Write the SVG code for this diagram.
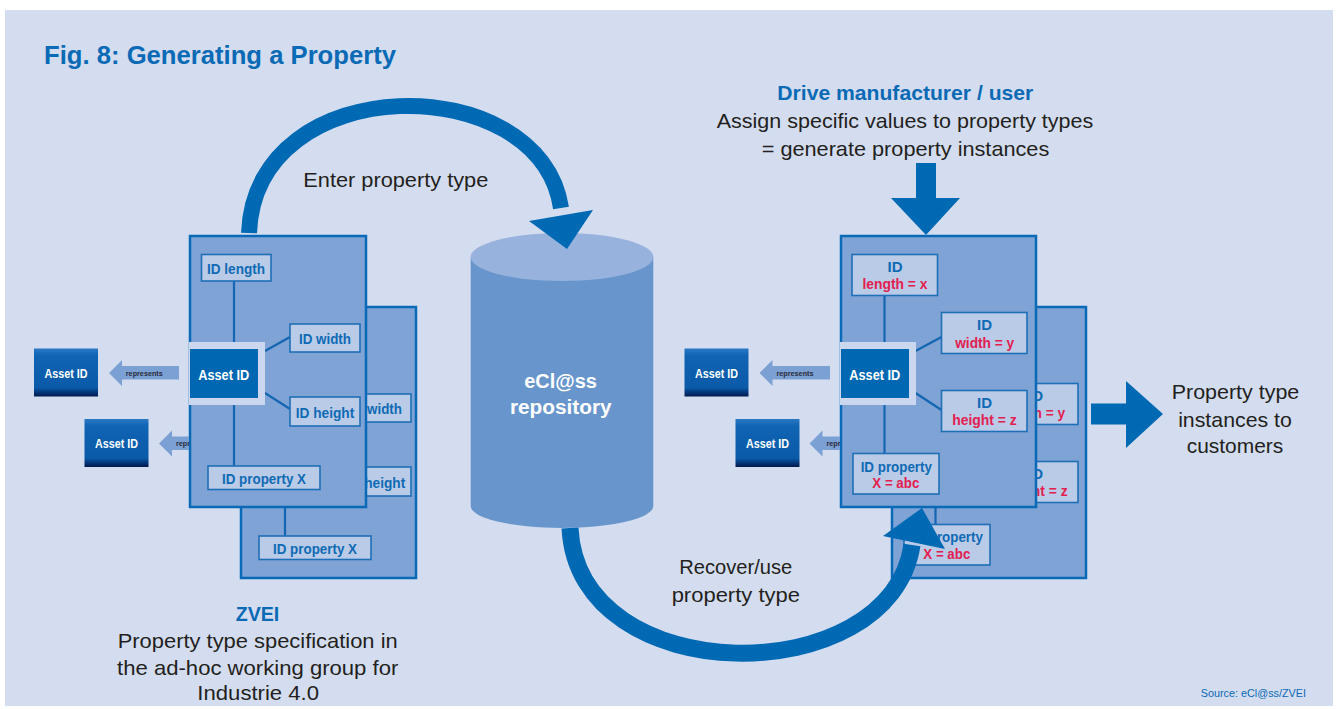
<svg xmlns="http://www.w3.org/2000/svg" width="1338" height="709" viewBox="0 0 1338 709">
<style>
.panel{fill:#7ea3d4;stroke:#0a6ab8;stroke-width:2.5}
.box{fill:#bacbe8;stroke:#1f6fb7;stroke-width:1.6}
.link{stroke:#1466b2;stroke-width:2.2;fill:none}
.frame{fill:#cbd7ee}
.core{fill:#0068b3}
.t{font-family:"Liberation Sans",Arial,sans-serif}
.lbl{font-family:"Liberation Sans",Arial,sans-serif;font-size:15px;font-weight:bold;fill:#0f6ab4;text-anchor:middle}
.red{fill:#e2204f}
.core-t{font-family:"Liberation Sans",Arial,sans-serif;font-size:15px;font-weight:bold;fill:#ffffff;text-anchor:middle}
.asset{fill:url(#ag)}
.asset-t{font-family:"Liberation Sans",Arial,sans-serif;font-size:12.5px;font-weight:bold;fill:#ffffff;text-anchor:middle}
.rep{fill:#7ba0d3}
.rep-t{font-family:"Liberation Sans",Arial,sans-serif;font-size:8px;font-weight:bold;fill:#2a2c3c;text-anchor:middle}
.flow{fill:#0069b4}
.arc{fill:none;stroke:#0069b4}
.body{font-family:"Liberation Sans",Arial,sans-serif;font-size:21px;fill:#231f20;text-anchor:middle}
.head{font-family:"Liberation Sans",Arial,sans-serif;font-size:21px;font-weight:bold;fill:#0a6ab5;text-anchor:middle}
</style>
<defs>
<linearGradient id="ag" x1="0" y1="0" x2="0" y2="1">
<stop offset="0" stop-color="#2a78c4"/>
<stop offset="0.15" stop-color="#0f64b3"/>
<stop offset="0.82" stop-color="#0a5aa8"/>
<stop offset="0.9" stop-color="#063a80"/>
<stop offset="1" stop-color="#001a4a"/>
</linearGradient>
<clipPath id="clipL"><rect x="0" y="400" width="189" height="80"/></clipPath>
<clipPath id="clipR"><rect x="700" y="400" width="140" height="80"/></clipPath>
<clipPath id="clipBackL"><path d="M367 300 H430 V590 H230 V508 H367 Z"/></clipPath>
<clipPath id="clipBackR"><path d="M1037 300 H1100 V590 H880 V508 H1037 Z"/></clipPath>
</defs>

<rect x="5" y="10" width="1328" height="696" fill="#d4ddef"/>

<text class="t" x="44" y="64" font-size="26" font-weight="bold" fill="#0a6ab5" textLength="352" lengthAdjust="spacingAndGlyphs">Fig. 8: Generating a Property</text>

<!-- left back panel -->
<g id="left-back" clip-path="url(#clipBackL)">
<rect class="panel" x="241" y="307" width="175" height="271"/>
<line class="link" x1="285" y1="475" x2="285" y2="536"/>
<rect class="box" x="341" y="394" width="70" height="28"/>
<text class="lbl" x="376" y="413.5" textLength="52" lengthAdjust="spacingAndGlyphs">ID width</text>
<rect class="box" x="341" y="467" width="70" height="29"/>
<text class="lbl" x="376" y="487.5" textLength="58.5" lengthAdjust="spacingAndGlyphs">ID height</text>
<rect class="box" x="259" y="536" width="112" height="23.5"/>
<text class="lbl" x="315" y="553.5" textLength="84" lengthAdjust="spacingAndGlyphs">ID property X</text>
</g>

<!-- left front panel -->
<g id="left-front">
<rect class="panel" x="190" y="236" width="176" height="271"/>
<line class="link" x1="234" y1="281" x2="234" y2="342"/>
<line class="link" x1="234" y1="405" x2="234" y2="466"/>
<line class="link" x1="265" y1="351" x2="290" y2="337"/>
<line class="link" x1="265" y1="393" x2="290" y2="409"/>
<rect class="box" x="201.5" y="254.5" width="69.5" height="26.5"/>
<text class="lbl" x="236" y="274" textLength="58" lengthAdjust="spacingAndGlyphs">ID length</text>
<rect class="box" x="290" y="324" width="70" height="28"/>
<text class="lbl" x="325" y="343.5" textLength="52" lengthAdjust="spacingAndGlyphs">ID width</text>
<rect class="box" x="290" y="397" width="70" height="29"/>
<text class="lbl" x="325" y="417.5" textLength="58.5" lengthAdjust="spacingAndGlyphs">ID height</text>
<rect class="box" x="208" y="466" width="112" height="23.5"/>
<text class="lbl" x="264" y="483.5" textLength="84" lengthAdjust="spacingAndGlyphs">ID property X</text>
<rect class="frame" x="189" y="342" width="76" height="63"/>
<rect class="core" x="190" y="349" width="68" height="49"/>
<text class="core-t" x="223.7" y="379.5" textLength="51" lengthAdjust="spacingAndGlyphs">Asset ID</text>
</g>

<!-- right back panel -->
<g id="right-back" clip-path="url(#clipBackR)">
<rect class="panel" x="892" y="307" width="194" height="271"/>
<line class="link" x1="935.5" y1="475" x2="935.5" y2="524.5"/>
<rect class="box" x="992.5" y="383.5" width="85.5" height="41"/>
<text class="lbl" x="1035.5" y="401">ID</text>
<text class="lbl red" x="1035.7" y="418.2" textLength="59" lengthAdjust="spacingAndGlyphs">width = y</text>
<rect class="box" x="992.5" y="461.5" width="85.5" height="41"/>
<text class="lbl" x="1035.5" y="478.5">ID</text>
<text class="lbl red" x="1035.5" y="495.7" textLength="64.6" lengthAdjust="spacingAndGlyphs">height = z</text>
<rect class="box" x="904" y="524.5" width="86" height="40.5"/>
<text class="lbl" x="947.3" y="542.2" textLength="71.3" lengthAdjust="spacingAndGlyphs">ID property</text>
<text class="lbl red" x="946.8" y="558.7" textLength="47" lengthAdjust="spacingAndGlyphs">X = abc</text>
</g>

<!-- right front panel -->
<g id="right-front">
<rect class="panel" x="841" y="236" width="195" height="271"/>
<line class="link" x1="884.5" y1="295.5" x2="884.5" y2="342"/>
<line class="link" x1="884.5" y1="405" x2="884.5" y2="453.5"/>
<line class="link" x1="915.5" y1="351" x2="941.5" y2="337"/>
<line class="link" x1="915.5" y1="393" x2="941.5" y2="410"/>
<rect class="box" x="852" y="254.5" width="85.5" height="41"/>
<text class="lbl" x="895" y="272">ID</text>
<text class="lbl red" x="895" y="289" textLength="65" lengthAdjust="spacingAndGlyphs">length = x</text>
<rect class="box" x="941.5" y="312.5" width="85.5" height="41"/>
<text class="lbl" x="984.5" y="330">ID</text>
<text class="lbl red" x="984.7" y="347.5" textLength="59" lengthAdjust="spacingAndGlyphs">width = y</text>
<rect class="box" x="941.5" y="390.5" width="85.5" height="41"/>
<text class="lbl" x="984.5" y="407.8">ID</text>
<text class="lbl red" x="984.5" y="425" textLength="64.6" lengthAdjust="spacingAndGlyphs">height = z</text>
<rect class="box" x="853" y="453.5" width="86" height="40.5"/>
<text class="lbl" x="896.3" y="471.5" textLength="71.3" lengthAdjust="spacingAndGlyphs">ID property</text>
<text class="lbl red" x="895.8" y="488" textLength="47" lengthAdjust="spacingAndGlyphs">X = abc</text>
<rect class="frame" x="840" y="342" width="76" height="63"/>
<rect class="core" x="841" y="349" width="68" height="49"/>
<text class="core-t" x="874.8" y="379.5" textLength="51" lengthAdjust="spacingAndGlyphs">Asset ID</text>
</g>

<!-- external asset IDs -->
<g id="asset-l1"><rect class="asset" x="34" y="348.5" width="64" height="48"/><text class="asset-t" x="66" y="377.5" textLength="43" lengthAdjust="spacingAndGlyphs">Asset ID</text></g>
<g id="asset-l2"><rect class="asset" x="84.5" y="419" width="64" height="48"/><text class="asset-t" x="116.5" y="447.5" textLength="43" lengthAdjust="spacingAndGlyphs">Asset ID</text></g>
<g id="asset-r1"><rect class="asset" x="684.5" y="348.5" width="64" height="48"/><text class="asset-t" x="716.5" y="377.5" textLength="43" lengthAdjust="spacingAndGlyphs">Asset ID</text></g>
<g id="asset-r2"><rect class="asset" x="735.5" y="419" width="64" height="48"/><text class="asset-t" x="767.5" y="447.5" textLength="43" lengthAdjust="spacingAndGlyphs">Asset ID</text></g>

<!-- repository -->
<g id="repository">
<path d="M470.7 257 L470.7 506 A91.3 22 0 0 0 653.3 506 L653.3 257 Z" fill="#6896cc"/>
<ellipse cx="562" cy="257" rx="91.3" ry="24" fill="#97b2dc"/>
<text class="t" x="560.5" y="388" font-size="19.5" font-weight="bold" fill="#ffffff" text-anchor="middle" textLength="72.7" lengthAdjust="spacingAndGlyphs">eCl@ss</text>
<text class="t" x="560.8" y="414" font-size="19.5" font-weight="bold" fill="#ffffff" text-anchor="middle" textLength="101.7" lengthAdjust="spacingAndGlyphs">repository</text>
</g>

<!-- captions -->
<g id="caption-drive">
<text class="head" x="905.3" y="100" font-size="20" textLength="256" lengthAdjust="spacingAndGlyphs">Drive manufacturer / user</text>
<text class="body" x="905" y="128.3" textLength="376.6" lengthAdjust="spacingAndGlyphs">Assign specific values to property types</text>
<text class="body" x="905.5" y="156" textLength="287.6" lengthAdjust="spacingAndGlyphs">= generate property instances</text>
</g>
<g id="caption-zvei">
<text class="head" x="257.5" y="621" textLength="43.6" lengthAdjust="spacingAndGlyphs">ZVEI</text>
<text class="body" x="257.7" y="648.3" textLength="280" lengthAdjust="spacingAndGlyphs">Property type specification in</text>
<text class="body" x="257.7" y="675" textLength="281.3" lengthAdjust="spacingAndGlyphs">the ad-hoc working group for</text>
<text class="body" x="258.2" y="700" textLength="121.7" lengthAdjust="spacingAndGlyphs">Industrie 4.0</text>
</g>
<g id="caption-customers">
<text class="body" x="1235.5" y="399.3" textLength="127.6" lengthAdjust="spacingAndGlyphs">Property type</text>
<text class="body" x="1235" y="426.5" textLength="113.7" lengthAdjust="spacingAndGlyphs">instances to</text>
<text class="body" x="1235" y="453.3" textLength="96.6" lengthAdjust="spacingAndGlyphs">customers</text>
</g>
<text id="source" class="t" x="1306" y="697.3" font-size="11" fill="#0a6ab5" text-anchor="end" textLength="105.3" lengthAdjust="spacingAndGlyphs">Source: eCl@ss/ZVEI</text>

<!-- connectors -->
<g id="connectors">
<path class="arc" stroke-width="16" d="M249 233 C255 68 540 68 561 208"/>
<polygon class="flow" points="529,221 593,210 567,249"/>
<text class="body" x="395.8" y="186.7" textLength="185" lengthAdjust="spacingAndGlyphs">Enter property type</text>
<path class="arc" stroke-width="17" d="M570 528 C578 692 890 692 912 545"/>
<polygon class="flow" points="883,536 922,508 945,549"/>
<text class="body" x="735.8" y="574" textLength="113" lengthAdjust="spacingAndGlyphs">Recover/use</text>
<text class="body" x="735.8" y="601.7" textLength="128.3" lengthAdjust="spacingAndGlyphs">property type</text>
<polygon class="flow" points="916,163 936,163 936,198 960,198 926,235 891,198 916,198"/>
<polygon class="flow" points="1091,403.5 1126,403.5 1126,381 1163,414 1126,448 1126,424.5 1091,424.5"/>
<polygon class="rep" points="109,373 122,360 122,366 179,366 179,379.5 122,379.5 122,386"/>
<text class="rep-t" x="144.3" y="375.5" textLength="37" lengthAdjust="spacingAndGlyphs">represents</text>
<g clip-path="url(#clipL)">
<polygon class="rep" points="159,443.5 172,430.5 172,436.5 229,436.5 229,450 172,450 172,456.5"/>
<text class="rep-t" x="194.5" y="446" textLength="37" lengthAdjust="spacingAndGlyphs">represents</text>
</g>
<polygon class="rep" points="759.5,373 772.5,360 772.5,366 830,366 830,379.5 772.5,379.5 772.5,386"/>
<text class="rep-t" x="795" y="375.5" textLength="37" lengthAdjust="spacingAndGlyphs">represents</text>
<g clip-path="url(#clipR)">
<polygon class="rep" points="809.5,443.5 822.5,430.5 822.5,436.5 880,436.5 880,450 822.5,450 822.5,456.5"/>
<text class="rep-t" x="845" y="446" textLength="37" lengthAdjust="spacingAndGlyphs">represents</text>
</g>
</g>
</svg>
